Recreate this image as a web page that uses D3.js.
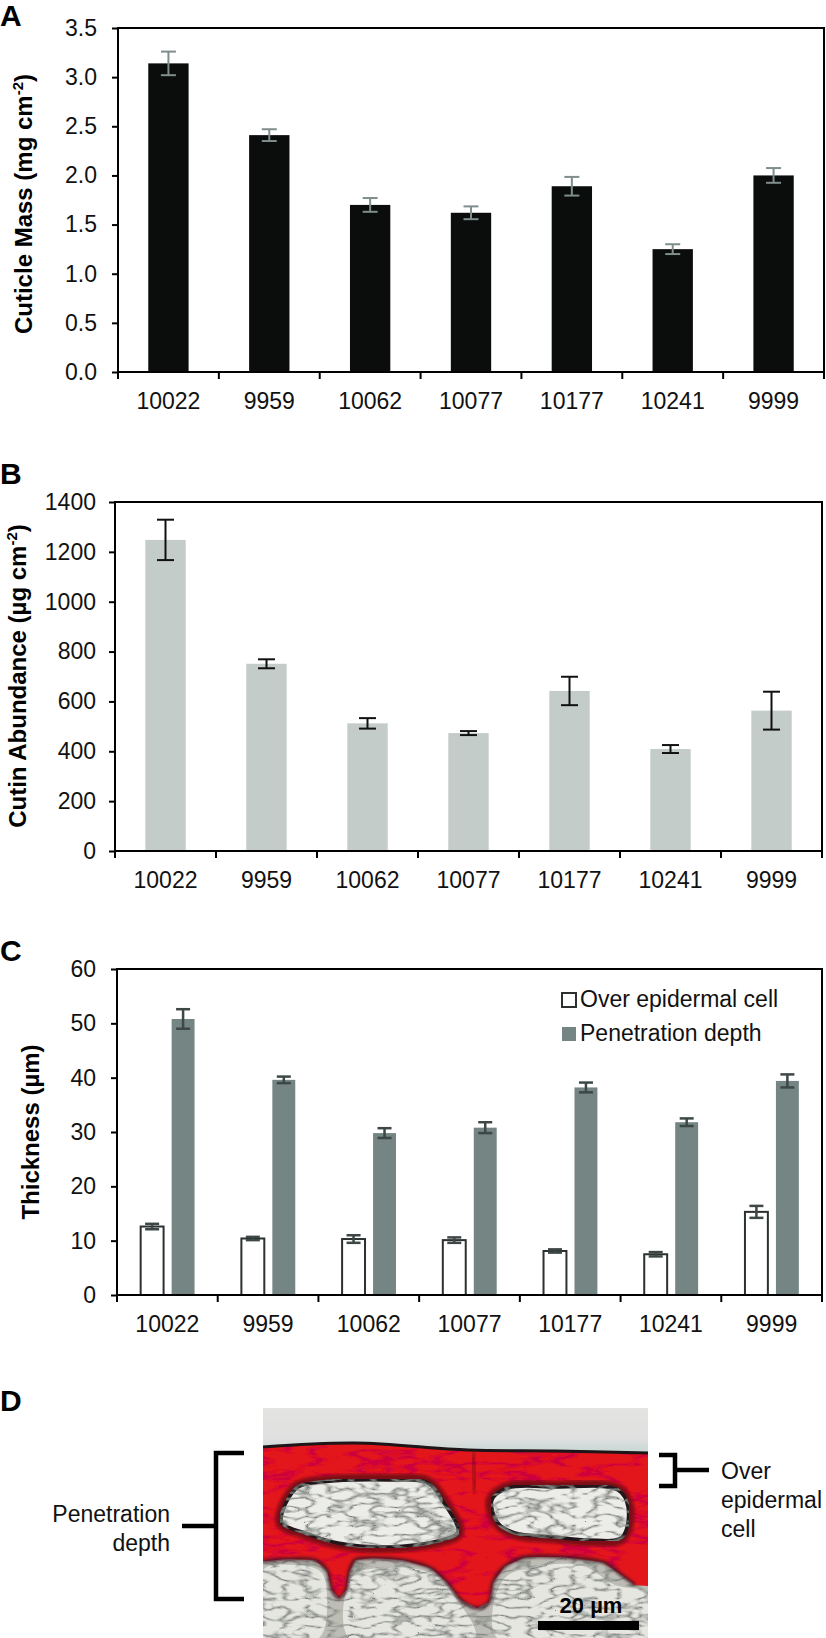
<!DOCTYPE html>
<html lang="en">
<head>
<meta charset="utf-8">
<title>Cuticle traits</title>
<script src="https://cdn.jsdelivr.net/npm/d3@7"></script>
<style>
  body { margin: 0; background: #fff; }
  text { font-family: "Liberation Sans", Arial, sans-serif; }
</style>
</head>
<body>
<script>
// ---- data ----
const strains = ["10022", "9959", "10062", "10077", "10177", "10241", "9999"];

const cuticleMass    = [3.14, 2.41, 1.70, 1.62, 1.89, 1.25, 2.00];
const cuticleMassErr = [0.12, 0.06, 0.07, 0.065, 0.095, 0.05, 0.075];
const massTicks      = [0, 0.5, 1.0, 1.5, 2.0, 2.5, 3.0, 3.5];

const cutinAbundance = [1248, 751, 512, 473, 642, 409, 563];
const cutinErr       = [81, 18, 21, 8, 57, 16, 76];
const cutinTicks     = [0, 200, 400, 600, 800, 1000, 1200, 1400];

const thicknessSeries = ["Over epidermal cell", "Penetration depth"];
const overEpidermal    = [12.6, 10.4, 10.3, 10.1, 8.1, 7.5, 15.3];
const overEpidermalErr = [0.5, 0.3, 0.7, 0.5, 0.3, 0.4, 1.1];
const penetration      = [50.8, 39.6, 29.8, 30.8, 38.2, 31.8, 39.4];
const penetrationErr   = [1.8, 0.6, 0.9, 1.0, 0.9, 0.7, 1.2];
const thickTicks       = [0, 10, 20, 30, 40, 50, 60];

const W = 826, H = 1638;
const svg = d3.select("body").append("svg")
    .attr("width", W).attr("height", H);
const defs = svg.append("defs");

// panel letter
function letter(t, y) {
  svg.append("text").attr("x", 0).attr("y", y)
    .attr("font-size", 30).attr("font-weight", "bold").text(t);
}

// y axis title with a superscript part
function yTitle(x, y, main, sup, tail) {
  const t = svg.append("text")
    .attr("transform", `translate(${x},${y}) rotate(-90)`)
    .attr("text-anchor", "middle")
    .attr("font-size", 24).attr("font-weight", "bold");
  t.append("tspan").text(main);
  if (sup) {
    t.append("tspan").attr("dy", -9).attr("font-size", 15).text(sup);
    t.append("tspan").attr("dy", 9).text(tail);
  }
}

// frame, axes and category ticks shared by all three charts
function frame(p, x, y, ticks, fmt) {
  const g = svg.append("g");
  g.append("g")
    .attr("transform", `translate(${p.left},0)`)
    .call(d3.axisLeft(y).tickValues(ticks).tickSize(6).tickPadding(p.pad).tickFormat(fmt))
    .call(a => a.select(".domain").remove())
    .call(a => a.selectAll("line").attr("stroke", "#000").attr("stroke-width", 2))
    .call(a => a.selectAll("text").attr("font-size", 23).attr("fill", "#111")
      .attr("font-family", "'Liberation Sans', Arial, sans-serif"));

  g.append("g")
    .attr("transform", `translate(0,${p.bottom})`)
    .call(d3.axisBottom(x).tickSize(0).tickPadding(21))
    .call(a => a.select(".domain").remove())
    .call(a => a.selectAll("text").attr("font-size", 23).attr("fill", "#111")
      .attr("font-family", "'Liberation Sans', Arial, sans-serif"));

  const edges = strains.map(s => x(s)).concat([x.range()[1]]);
  g.selectAll("line.edge").data(edges).join("line")
    .attr("x1", d => d).attr("x2", d => d)
    .attr("y1", p.bottom).attr("y2", p.bottom + 7)
    .attr("stroke", "#000").attr("stroke-width", 2);

  g.append("rect")
    .attr("x", p.left).attr("y", p.top)
    .attr("width", p.right - p.left).attr("height", p.bottom - p.top)
    .attr("fill", "none").attr("stroke", "#000").attr("stroke-width", 2);
}

function errBars(g, xs, vals, errs, y, cap, color, sw) {
  const e = g.append("g").attr("stroke", color).attr("stroke-width", sw);
  vals.forEach((v, i) => {
    const cx = xs[i];
    e.append("line").attr("x1", cx).attr("x2", cx)
      .attr("y1", y(v - errs[i])).attr("y2", y(v + errs[i]));
    e.append("line").attr("x1", cx - cap / 2).attr("x2", cx + cap / 2)
      .attr("y1", y(v + errs[i])).attr("y2", y(v + errs[i]));
    e.append("line").attr("x1", cx - cap / 2).attr("x2", cx + cap / 2)
      .attr("y1", y(v - errs[i])).attr("y2", y(v - errs[i]));
  });
}

// single-series bar chart (A and B)
function barPanel(p, vals, errs, ticks, fmt, fill, errColor, cap) {
  const x = d3.scaleBand().domain(strains).range([p.left, p.right]);
  const y = d3.scaleLinear().domain([0, ticks[ticks.length - 1]]).range([p.bottom, p.top]);
  const bw = x.bandwidth() * 0.4;
  const g = svg.append("g");
  g.selectAll("rect").data(vals).join("rect")
    .attr("x", (d, i) => x(strains[i]) + x.bandwidth() / 2 - bw / 2)
    .attr("y", d => y(d))
    .attr("width", bw)
    .attr("height", d => p.bottom - y(d))
    .attr("fill", fill);
  errBars(g, strains.map(s => x(s) + x.bandwidth() / 2), vals, errs, y, cap, errColor, 2);
  frame(p, x, y, ticks, fmt);
}

// ---- A ----
letter("A", 26);
barPanel({left: 118, right: 824, top: 28, bottom: 372, pad: 15},
  cuticleMass, cuticleMassErr, massTicks, d3.format(".1f"), "#0b0d0c", "#7f8d8c", 15);
yTitle(32, 204, "Cuticle Mass (mg cm", "-2", ")");

// ---- B ----
letter("B", 484);
barPanel({left: 115, right: 822, top: 502, bottom: 851, pad: 13},
  cutinAbundance, cutinErr, cutinTicks, d3.format("d"), "#c4ccc9", "#111", 17);
yTitle(26, 676, "Cutin Abundance (µg cm", "-2", ")");

// ---- C ----
letter("C", 961);
(function () {
  const p = {left: 117, right: 822, top: 969, bottom: 1295, pad: 15};
  const x = d3.scaleBand().domain(strains).range([p.left, p.right]);
  const y = d3.scaleLinear().domain([0, 60]).range([p.bottom, p.top]);
  const bw = x.bandwidth();
  const inner = d3.scaleBand().domain(thicknessSeries)
    .range([bw / 2 - bw * 0.265, bw / 2 + bw * 0.27]).paddingInner(0.26);
  const series = [
    {key: thicknessSeries[0], vals: overEpidermal, errs: overEpidermalErr, fill: "#fff", stroke: "#2c3030"},
    {key: thicknessSeries[1], vals: penetration, errs: penetrationErr, fill: "#748583", stroke: "none"}
  ];
  const g = svg.append("g");
  series.forEach(s => {
    g.append("g").selectAll("rect").data(s.vals).join("rect")
      .attr("x", (d, i) => x(strains[i]) + inner(s.key))
      .attr("y", d => y(d))
      .attr("width", inner.bandwidth())
      .attr("height", d => p.bottom - y(d))
      .attr("fill", s.fill).attr("stroke", s.stroke).attr("stroke-width", 2);
  });
  series.forEach(s => {
    errBars(g, strains.map(c => x(c) + inner(s.key) + inner.bandwidth() / 2),
      s.vals, s.errs, y, 14, "#3c4746", 2.5);
  });
  frame(p, x, y, thickTicks, d3.format("d"));

  // legend
  const lg = svg.append("g");
  series.forEach((s, i) => {
    lg.append("rect").attr("x", 562).attr("y", 993 + i * 34)
      .attr("width", 14).attr("height", 14)
      .attr("fill", s.fill).attr("stroke", i === 0 ? "#2c3030" : "none").attr("stroke-width", 2);
    lg.append("text").attr("x", 580).attr("y", 1007 + i * 34)
      .attr("font-size", 23).attr("fill", "#111").text(s.key);
  });
})();
yTitle(39, 1132, "Thickness (µm)");

// ---- D : stained cuticle micrograph (drawn illustration) ----
letter("D", 1411);

// streaky bright-field texture: dark squiggles where the turbulence ridges are
function texture(id, freq, seed, rgb, k, oct) {
  const f = defs.append("filter").attr("id", id)
    .attr("x", 0).attr("y", 0).attr("width", "100%").attr("height", "100%");
  f.append("feTurbulence").attr("type", "turbulence")
    .attr("baseFrequency", freq).attr("numOctaves", oct).attr("seed", seed).attr("result", "noise");
  f.append("feColorMatrix").attr("in", "noise").attr("type", "matrix")
    .attr("values", `0 0 0 0 ${rgb[0]}  0 0 0 0 ${rgb[1]}  0 0 0 0 ${rgb[2]}  ${-k} 0 0 0 1`)
    .attr("result", "dark");
  f.append("feComposite").attr("in", "dark").attr("in2", "SourceGraphic")
    .attr("operator", "in").attr("result", "clipped");
  const m = f.append("feMerge");
  m.append("feMergeNode").attr("in", "SourceGraphic");
  m.append("feMergeNode").attr("in", "clipped");
}
texture("grain", "0.045 0.11", 7, [0.22, 0.24, 0.22], 3.6, 2);
texture("redtex", "0.02 0.07", 3, [0.55, 0.0, 0.06], 4, 3);

defs.append("filter").attr("id", "soft").append("feGaussianBlur").attr("stdDeviation", 1.6);
defs.append("clipPath").attr("id", "photoClip")
  .append("rect").attr("width", 385).attr("height", 230);

const sky = defs.append("linearGradient").attr("id", "sky").attr("x1", 0).attr("x2", 0).attr("y1", 0).attr("y2", 1);
sky.append("stop").attr("offset", "0").attr("stop-color", "#e4e4e2");
sky.append("stop").attr("offset", "0.7").attr("stop-color", "#dfe0df");
sky.append("stop").attr("offset", "1").attr("stop-color", "#c5d6d4");

const photo = svg.append("g").attr("transform", "translate(263,1408)")
  .attr("clip-path", "url(#photoClip)");
const closed = d3.line().curve(d3.curveCatmullRomClosed.alpha(0.5));
const open = d3.line().curve(d3.curveCatmullRom.alpha(0.5));

// outline shapes of the section, in photo pixels
const surface = [[0, 39], [92, 35], [205, 42], [292, 43], [385, 45]];
const redBottom = [[385, 178], [372, 177], [360, 168], [340, 154], [300, 149], [262, 149],
  [242, 158], [230, 174], [226, 194], [214, 200], [198, 192], [184, 174], [168, 160],
  [140, 152], [110, 150], [92, 152], [86, 164], [83, 182], [76, 190], [69, 182],
  [64, 162], [52, 152], [25, 151], [0, 153]];
const cellLeft = [[20, 102], [35, 79], [59, 74], [125, 72], [165, 75], [179, 92], [195, 124],
  [179, 132], [125, 139], [75, 135], [42, 125], [19, 115]];
const cellRight = [[229, 92], [245, 80], [292, 79], [355, 82], [365, 99], [359, 129],
  [325, 132], [292, 129], [252, 125], [235, 115]];
const lowerCells = [
  [[0, 162], [30, 157], [58, 164], [64, 190], [56, 230], [0, 230]],
  [[90, 168], [120, 160], [168, 165], [194, 192], [212, 230], [86, 230]],
  [[240, 172], [270, 159], [320, 158], [352, 177], [385, 186], [385, 230], [234, 230]]
];

photo.append("rect").attr("width", 385).attr("height", 230).attr("fill", "#bdbdb6")
  .attr("filter", "url(#grain)");
photo.append("g").attr("filter", "url(#grain)")
  .selectAll("path").data(lowerCells).join("path")
  .attr("d", d => closed(d)).attr("fill", "#e6e6e1");
photo.append("rect").attr("width", 385).attr("height", 45).attr("fill", "url(#sky)");

const redPath = "M0,0 L" + surface.map(d => d.join(",")).join(" L") + " L" +
  redBottom.map(d => d.join(",")).join(" L") + " Z";
photo.append("path").attr("d", redPath).attr("fill", "#e3121c").attr("filter", "url(#redtex)");
photo.append("path").attr("d", "M0,-2 L" + surface.map(d => d.join(",")).join(" L") + " L385,-2 Z")
  .attr("fill", "url(#sky)");
photo.append("path").attr("d", open(redBottom.slice(1))).attr("fill", "none")
  .attr("stroke", "#4a1620").attr("stroke-width", 3).attr("filter", "url(#soft)");
photo.append("path").attr("d", open(surface)).attr("fill", "none")
  .attr("stroke", "#1d1517").attr("stroke-width", 3);
photo.append("line").attr("x1", 210).attr("x2", 212).attr("y1", 44).attr("y2", 85)
  .attr("stroke", "#7a0a12").attr("stroke-width", 2).attr("filter", "url(#soft)");

[cellLeft, cellRight].forEach(c => {
  photo.append("path").attr("d", closed(c)).attr("fill", "none")
    .attr("stroke", "#7e0a14").attr("stroke-width", 12).attr("filter", "url(#soft)");
  photo.append("path").attr("d", closed(c)).attr("fill", "#ececE8")
    .attr("stroke", "#22181a").attr("stroke-width", 3.5).attr("filter", "url(#grain)");
});

// scale bar
photo.append("rect").attr("x", 275).attr("y", 213).attr("width", 101).attr("height", 9).attr("fill", "#000");
photo.append("text").attr("x", 328).attr("y", 205).attr("text-anchor", "middle")
  .attr("font-size", 22).attr("font-weight", "bold").attr("fill", "#000").text("20 µm");

// brackets and call-outs
const br = svg.append("g").attr("fill", "none").attr("stroke", "#000").attr("stroke-width", 4.5);
br.append("path").attr("d", "M244,1453 H216 V1599 H244");
br.append("path").attr("d", "M182,1526 H216");
br.append("path").attr("d", "M659,1455 H675 V1486 H659");
br.append("path").attr("d", "M675,1470 H709");

const leftNote = ["Penetration", "depth"];
svg.append("g").selectAll("text").data(leftNote).join("text")
  .attr("x", 170).attr("y", (d, i) => 1522 + i * 29).attr("text-anchor", "end")
  .attr("font-size", 23).attr("fill", "#111").text(d => d);
const rightNote = ["Over", "epidermal", "cell"];
svg.append("g").selectAll("text").data(rightNote).join("text")
  .attr("x", 721).attr("y", (d, i) => 1479 + i * 29)
  .attr("font-size", 23).attr("fill", "#111").text(d => d);
</script>
</body>
</html>
